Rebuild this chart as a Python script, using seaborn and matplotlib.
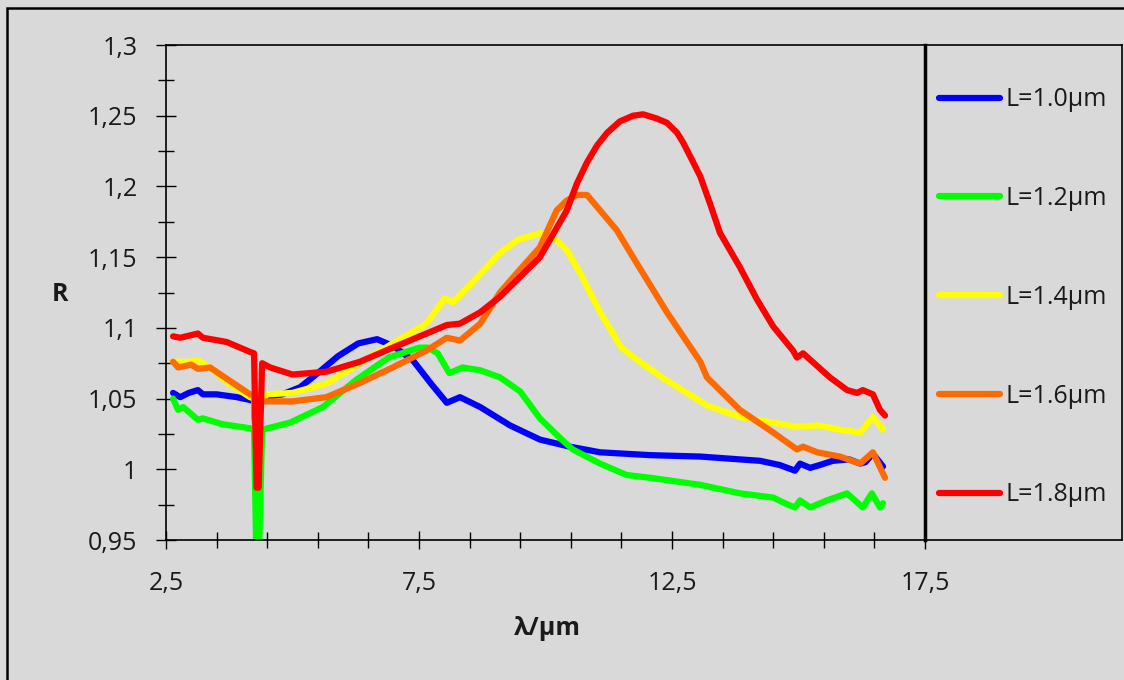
import matplotlib
matplotlib.use("Agg")
import matplotlib.pyplot as plt
from matplotlib.ticker import FixedLocator
import seaborn as sns
import pandas as pd
import numpy as np

sns.set_theme(style="white")
plt.rcParams["font.family"] = ["Open Sans", "DejaVu Sans"]

# courbes : lambda (µm) / R
lam_10 = [2.64, 2.78, 2.95, 3.13, 3.23, 3.5, 3.9, 4.16, 4.24, 4.30, 4.36, 4.42, 4.8, 5.15,
          5.5, 5.9, 6.3, 6.67, 7.0, 7.38, 7.75, 8.05, 8.31, 8.71, 9.30, 9.89, 10.48, 11.08,
          12.07, 13.06, 13.84, 14.24, 14.63, 14.93, 15.03, 15.23, 15.42, 15.68, 16.0, 16.22,
          16.32, 16.47, 16.67]
r_10 = [1.054, 1.051, 1.054, 1.056, 1.053, 1.053, 1.051, 1.049, 1.048, 1.0, 1.045, 1.051,
        1.053, 1.058, 1.068, 1.080, 1.089, 1.092, 1.087, 1.077, 1.060, 1.047, 1.051, 1.044,
        1.031, 1.021, 1.016, 1.012, 1.010, 1.009, 1.007, 1.006, 1.003, 0.999, 1.004, 1.001,
        1.003, 1.006, 1.007, 1.004, 1.005, 1.011, 1.002]

lam_12 = [2.64, 2.74, 2.84, 3.13, 3.23, 3.6, 4.16, 4.24, 4.29, 4.33, 4.40, 4.95, 5.6, 6.25,
          6.9, 7.5, 7.68, 7.87, 8.1, 8.36, 8.71, 9.1, 9.5, 9.89, 10.29, 10.54, 11.08, 11.6,
          12.07, 13.06, 13.84, 14.5, 14.79, 14.93, 15.03, 15.23, 15.56, 15.96, 16.27, 16.45,
          16.61, 16.67]
r_12 = [1.050, 1.042, 1.044, 1.035, 1.036, 1.032, 1.029, 1.028, 0.93, 0.93, 1.028, 1.033,
        1.044, 1.063, 1.079, 1.086, 1.086, 1.082, 1.068, 1.072, 1.070, 1.065, 1.055, 1.036,
        1.022, 1.014, 1.004, 0.996, 0.994, 0.989, 0.983, 0.980, 0.975, 0.973, 0.978, 0.973,
        0.978, 0.983, 0.973, 0.983, 0.973, 0.976]

lam_14 = [2.64, 2.95, 3.13, 3.45, 3.72, 4.16, 4.24, 4.30, 4.36, 4.50, 5.0, 5.7, 6.33, 6.98,
          7.65, 8.01, 8.17, 8.5, 9.1, 9.44, 9.89, 10.22, 10.42, 10.68, 11.08, 11.5, 11.75,
          12.3, 13.2, 13.84, 14.97, 15.4, 15.82, 16.22, 16.47, 16.67]
r_14 = [1.076, 1.076, 1.077, 1.070, 1.061, 1.051, 1.050, 1.01, 1.048, 1.053, 1.054, 1.061,
        1.075, 1.089, 1.103, 1.121, 1.118, 1.130, 1.153, 1.162, 1.167, 1.162, 1.155, 1.139,
        1.111, 1.086, 1.079, 1.065, 1.045, 1.037, 1.030, 1.031, 1.028, 1.026, 1.037, 1.028]

lam_16 = [2.64, 2.74, 3.0, 3.13, 3.37, 3.66, 4.16, 4.24, 4.30, 4.36, 4.42, 5.0, 5.67, 6.33,
          6.98, 7.65, 8.05, 8.31, 8.71, 9.10, 9.44, 9.89, 10.22, 10.42, 10.62, 10.82, 11.08,
          11.41, 11.73, 12.40, 13.06, 13.19, 13.84, 14.50, 14.97, 15.09, 15.37, 15.82, 16.22,
          16.47, 16.71]
r_16 = [1.076, 1.072, 1.074, 1.071, 1.072, 1.065, 1.053, 1.052, 1.00, 1.048, 1.048, 1.048,
        1.051, 1.061, 1.072, 1.084, 1.093, 1.091, 1.103, 1.125, 1.139, 1.157, 1.183, 1.190,
        1.194, 1.194, 1.183, 1.169, 1.150, 1.111, 1.076, 1.065, 1.042, 1.026, 1.014, 1.016,
        1.012, 1.009, 1.004, 1.012, 0.994]

lam_18 = [2.64, 2.78, 3.13, 3.23, 3.70, 4.16, 4.24, 4.29, 4.33, 4.40, 4.56, 5.0, 5.67, 6.33,
          6.98, 7.65, 8.05, 8.31, 8.71, 9.10, 9.89, 10.42, 10.62, 10.82, 11.02, 11.22, 11.47,
          11.73, 11.93, 12.20, 12.40, 12.60, 12.72, 12.92, 13.06, 13.25, 13.45, 13.84, 14.18,
          14.50, 14.89, 14.97, 15.09, 15.62, 15.96, 16.16, 16.27, 16.47, 16.61, 16.71]
r_18 = [1.094, 1.093, 1.096, 1.093, 1.090, 1.083, 1.082, 0.987, 0.987, 1.075, 1.072, 1.067,
        1.069, 1.076, 1.086, 1.096, 1.102, 1.103, 1.111, 1.122, 1.150, 1.183, 1.202, 1.217,
        1.229, 1.238, 1.246, 1.250, 1.251, 1.248, 1.245, 1.238, 1.231, 1.217, 1.207, 1.188,
        1.167, 1.143, 1.120, 1.101, 1.084, 1.079, 1.082, 1.065, 1.056, 1.054, 1.056, 1.053,
        1.042, 1.038]

labels = ["L=1.0µm", "L=1.2µm", "L=1.4µm", "L=1.6µm", "L=1.8µm"]
couleurs = ["#0000ff", "#00ff00", "#ffff00", "#ff6a00", "#ff0000"]

x_ticks = [2.5, 7.5, 12.5, 17.5]
x_ticklabels = ["2,5", "7,5", "12,5", "17,5"]
y_ticks = [0.95, 1.0, 1.05, 1.1, 1.15, 1.2, 1.25, 1.3]
y_ticklabels = ["0,95", "1", "1,05", "1,1", "1,15", "1,2", "1,25", "1,3"]

series = [(lam_10, r_10), (lam_12, r_12), (lam_14, r_14), (lam_16, r_16), (lam_18, r_18)]
frames = []
for lab, (lam, r) in zip(labels, series):
    frames.append(pd.DataFrame({"lambda": lam, "R": r, "serie": lab}))
df = pd.concat(frames, ignore_index=True)

fond = "#d9d9d9"
fig = plt.figure(figsize=(11.24, 6.8), dpi=100, facecolor=fond)
ax = fig.add_axes([166 / 1124, 140 / 680, 759 / 1124, 495 / 680])
ax.set_facecolor(fond)

sns.lineplot(data=df, x="lambda", y="R", hue="serie", hue_order=labels,
             palette=couleurs, estimator=None, linewidth=4.5, legend=False, ax=ax,
             solid_joinstyle="round", solid_capstyle="round")

ax.set_xlim(2.5, 17.5)
ax.set_ylim(0.95, 1.3)
ax.set_xticks(x_ticks)
ax.set_xticklabels(x_ticklabels)
ax.set_yticks(y_ticks)
ax.set_yticklabels(y_ticklabels)
ax.xaxis.set_minor_locator(FixedLocator(np.arange(2.5, 17.6, 1.0)))
ax.yaxis.set_minor_locator(FixedLocator(np.arange(0.95, 1.301, 0.025)))

ax.tick_params(axis="both", which="both", direction="inout", colors="black",
               labelcolor="#1a1a1a", labelsize=18, width=1,
               bottom=True, left=True, top=False, right=False)
ax.tick_params(axis="y", which="major", length=15, pad=13)
ax.tick_params(axis="y", which="minor", length=11)
ax.tick_params(axis="x", which="major", length=13, pad=16)
ax.tick_params(axis="x", which="minor", length=12)

for s in ["left", "bottom", "top"]:
    ax.spines[s].set_linewidth(1.2)
    ax.spines[s].set_color("black")
ax.spines["right"].set_linewidth(2.5)
ax.spines["right"].set_color("black")
ax.spines["right"].set_zorder(5)

ax.set_xlabel("λ/µm", fontsize=18, fontweight="bold", color="#1a1a1a")
ax.xaxis.set_label_coords(0.502, -0.178)
ax.xaxis.label.set_va("center")
ax.set_ylabel("R", fontsize=18, fontweight="bold", rotation=0, color="#1a1a1a")
ax.yaxis.set_label_coords(-0.14, 0.495)
ax.yaxis.label.set_va("center")
ax.yaxis.label.set_ha("center")

# cadre de la legende a droite
lax = fig.add_axes([925 / 1124, 140 / 680, 197 / 1124, 495 / 680])
lax.patch.set_visible(False)
lax.set_xticks([])
lax.set_yticks([])
for s in lax.spines.values():
    s.set_linewidth(1.2)
    s.set_color("black")
lax.spines["left"].set_visible(False)
lax.legend(ax.get_lines(), labels, loc="center left", bbox_to_anchor=(0.0, 0.49),
           frameon=False, fontsize=18, labelspacing=2.95, handlelength=2.45,
           handletextpad=0.2, borderaxespad=0.15, labelcolor="#1a1a1a")

# bordure exterieure
fig.patches.append(plt.Rectangle((7 / 1124, -0.05), 1.2, 1.05 - 8 / 680, transform=fig.transFigure,
                                 fill=False, edgecolor="black", linewidth=1.8))

fig.savefig("out.png", dpi=100, facecolor=fond)
